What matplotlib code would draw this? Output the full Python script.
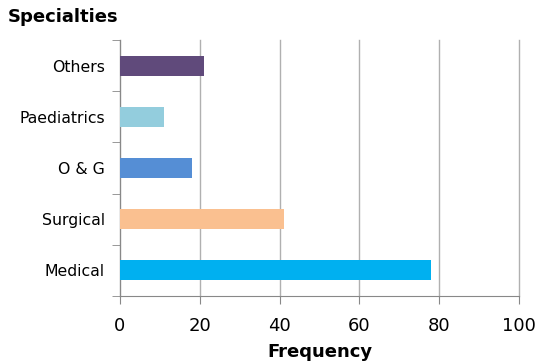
import matplotlib
matplotlib.use("Agg")
import matplotlib.pyplot as plt

# data
specialties = ["Medical", "Surgical", "O & G", "Paediatrics", "Others"]
frequency = [78, 41, 18, 11, 21]
colors = ["#00B0F0", "#FAC090", "#558ED5", "#93CDDD", "#604A7B"]

plt.rcParams['font.family'] = ['Verdana', 'DejaVu Sans']

fig = plt.figure(figsize=(5.37, 3.62), dpi=100)
ax = fig.add_axes([120 / 537, 66 / 362, 399 / 537, 256 / 362])

pos = list(range(len(specialties)))
ax.barh(pos, frequency, height=0.39, color=colors, zorder=3)

ax.set_xlim(0, 100)
ax.set_ylim(-0.5, len(specialties) - 0.5)
ax.set_xticks([0, 20, 40, 60, 80, 100])
ax.tick_params(axis='x', labelsize=13, length=6, color='#888888', pad=9)
ax.xaxis.grid(True, color='#b0b0b0', linewidth=1, zorder=0)
for gl in ax.get_xgridlines():
    gl.set_clip_on(False)

# labels at category centres, tick marks at category boundaries
ax.set_yticks(pos)
ax.set_yticklabels(specialties, fontsize=11.3)
ax.tick_params(axis='y', length=0, pad=11)
ax.set_yticks([p - 0.5 for p in pos] + [len(pos) - 0.5], minor=True)
ax.tick_params(axis='y', which='minor', length=6, color='#888888')

for s in ['top', 'right']:
    ax.spines[s].set_visible(False)
for s in ['left', 'bottom']:
    ax.spines[s].set_color('#888888')

ax.set_xlabel("Frequency", fontsize=13, fontweight='bold', labelpad=6)
fig.text(8 / 537, 1 - 17 / 362, "Specialties", fontsize=13, fontweight='bold', va='center', ha='left')

fig.savefig("out.png", dpi=100)
